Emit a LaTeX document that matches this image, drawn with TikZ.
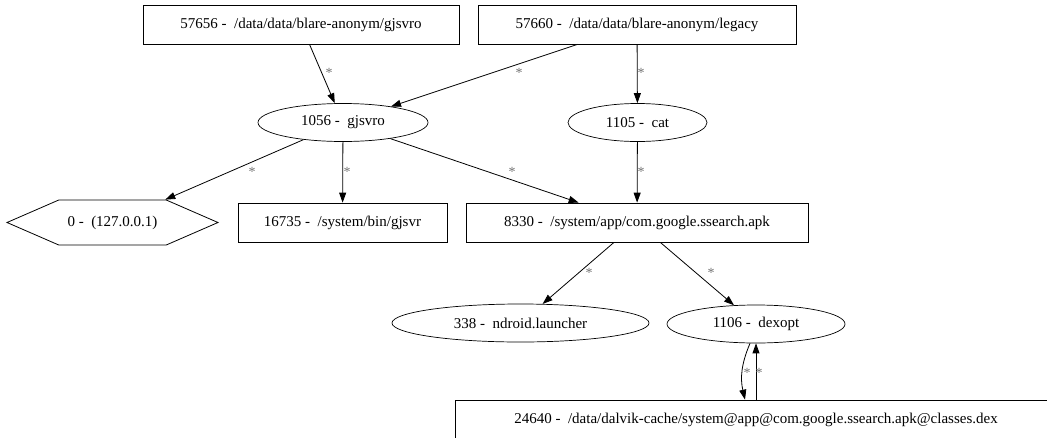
\documentclass[tikz,border=0pt]{standalone}
\usepackage{fontspec}
\setmainfont{Liberation Serif}
\usetikzlibrary{arrows.meta,shapes.geometric,shapes.symbols}

\tikzset{
	box/.style={draw, line width=0.7pt, rectangle, inner sep=0pt, minimum height=39pt},
	oval/.style={draw, line width=0.7pt, ellipse, inner sep=0pt, minimum height=38pt},
	hexa/.style={draw, line width=0.8pt, signal, signal to=east and west, signal pointer angle=47, inner sep=0pt, minimum width=211pt, minimum height=45pt},
	edge/.style={-{Triangle[length=10pt,width=7pt]}, line width=0.8pt},
	lbl/.style={font=\fontsize{14}{16}\selectfont, text=black!55, inner sep=0pt}
}

\begin{document}
\begin{tikzpicture}[x=1pt, y=-1pt, font=\fontsize{15}{18}\selectfont]
			%%%%% START %%%%%
			\useasboundingbox (0, 0) rectangle (1047, 437);
			\clip (0, 0) rectangle (1047, 437);
			
			% files on top
			\node[box, minimum width=316pt] (gjsvroFile) at (301, 24.5) {57656 -\ \ /data/data/blare-anonym/gjsvro};
			\node[box, minimum width=318pt] (legacy) at (637, 24.5) {57660 -\ \ /data/data/blare-anonym/legacy};
			
			% processes
			\node[oval, minimum width=170pt] (gjsvro) at (343, 122.5) {1056 -\ \ gjsvro};
			\node[oval, minimum width=139pt] (cat) at (637.5, 122.5) {1105 -\ \ cat};
			
			\node[hexa] (localhost) at (112.5, 222.5) {0 -\ \ (127.0.0.1)};
			\node[box, minimum width=209pt] (gjsvr) at (342.5, 222.5) {16735 -\ \ /system/bin/gjsvr};
			\node[box, minimum width=342pt] (apk) at (637, 222.5) {8330 -\ \ /system/app/com.google.ssearch.apk};
			
			\node[oval, minimum width=257pt] (launcher) at (520.5, 323) {338 -\ \ ndroid.launcher};
			\node[oval, minimum width=178pt] (dexopt) at (756, 324) {1106 -\ \ dexopt};
			
			\node[box, minimum width=602pt] (dex) at (756, 419.5) {24640 -\ \ /data/dalvik-cache/system@app@com.google.ssearch.apk@classes.dex};
			
			% flows
			\draw[edge] (gjsvroFile) -- (gjsvro);
			\draw[edge] (legacy) -- (gjsvro);
			\draw[edge] (legacy) -- (cat);
			\draw[edge] (gjsvro) -- (localhost);
			\draw[edge] (gjsvro) -- (gjsvr);
			\draw[edge] (gjsvro) -- (apk);
			\draw[edge] (cat) -- (apk);
			\draw[edge] (apk) -- (launcher);
			\draw[edge] (apk) -- (dexopt);
			\draw[edge] ([xshift=-6pt]dexopt.south) to[bend right=18] ([xshift=-11pt]dex.north);
			\draw[edge] (dex.north) -- (dexopt.south);
			
			% stars
			\node[lbl] (sA) at (329, 73) {*};
			\node[lbl] (sB) at (519, 73) {*};
			\node[lbl] (sC) at (641, 73) {*};
			\node[lbl] (sD) at (252, 172) {*};
			\node[lbl] (sE) at (347, 172) {*};
			\node[lbl] (sF) at (512, 172) {*};
			\node[lbl] (sG) at (641, 172) {*};
			\node[lbl] (sH) at (589, 273) {*};
			\node[lbl] (sI) at (711, 273) {*};
			\node[lbl] (sJ) at (747, 373) {*};
			\node[lbl] (sK) at (759, 373) {*};
			
			%%%%% END %%%%%
\end{tikzpicture}
\end{document}
